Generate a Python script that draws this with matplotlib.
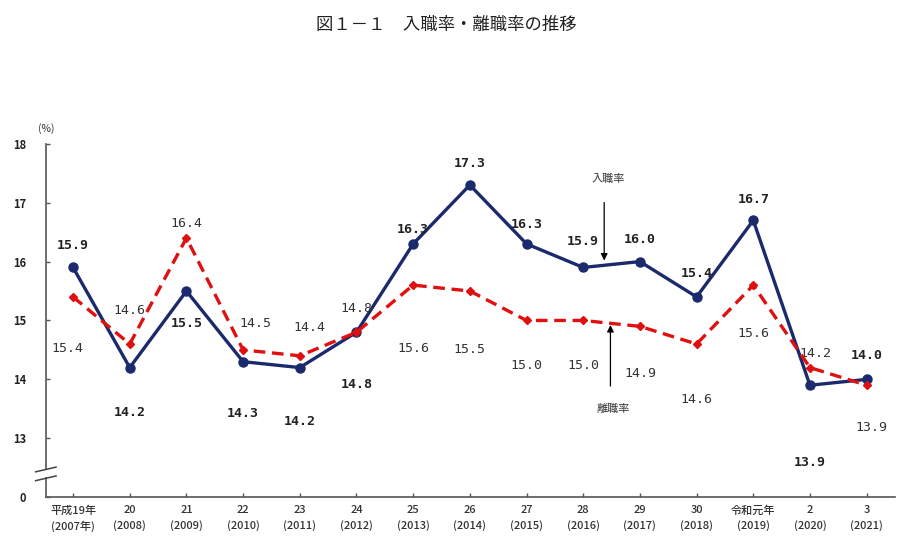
import numpy as np
import matplotlib.pyplot as plt

plt.rcParams['font.family'] = ['Noto Sans CJK JP', 'DejaVu Sans']

# data
years = ['平成19年\n(2007年)', '20\n(2008)', '21\n(2009)', '22\n(2010)', '23\n(2011)',
         '24\n(2012)', '25\n(2013)', '26\n(2014)', '27\n(2015)', '28\n(2016)',
         '29\n(2017)', '30\n(2018)', '令和元年\n(2019)', '2\n(2020)', '3\n(2021)']
hire_rate = [15.9, 14.2, 15.5, 14.3, 14.2, 14.8, 16.3, 17.3, 16.3, 15.9, 16.0, 15.4, 16.7, 13.9, 14.0]
sep_rate = [15.4, 14.6, 16.4, 14.5, 14.4, 14.8, 15.6, 15.5, 15.0, 15.0, 14.9, 14.6, 15.6, 14.2, 13.9]

navy = '#1a2a6c'
red = '#e01010'

fig = plt.figure(figsize=(9.17, 5.53), dpi=100)
ax = fig.add_axes([0.050, 0.101, 0.926, 0.639])
x = np.arange(len(years))

ax.plot(x, hire_rate, color=navy, lw=2.4, marker='o', ms=6.5, zorder=3)
ax.plot(x, sep_rate, color=red, lw=2.4, ls=(0, (3.5, 2)), marker='D', ms=4.5, zorder=4)

# label offsets in pixels (dx, dy)
hire_off = [(0, 22), (0, -45), (0, -32), (0, -52), (0, -54), (0, -52), (0, 14), (0, 22),
            (0, 19), (0, 26), (0, 22), (0, 23), (0, 21), (0, -77), (0, 24)]
sep_off = [(-6, -52), (0, 34), (0, 15), (12, 26), (10, 28), (0, 24), (0, -63), (0, -58),
           (0, -45), (0, -45), (0, -47), (0, -55), (0, -48), (5, 14), (5, -42)]
for i in range(len(x)):
    ax.annotate(f'{hire_rate[i]:.1f}', (x[i], hire_rate[i]), xytext=hire_off[i],
                textcoords='offset pixels', ha='center', va='center',
                fontsize=9.5, fontweight='bold', family='DejaVu Sans Mono', color='#222222')
    ax.annotate(f'{sep_rate[i]:.1f}', (x[i], sep_rate[i]), xytext=sep_off[i],
                textcoords='offset pixels', ha='center', va='center',
                fontsize=9.5, family='DejaVu Sans Mono', color='#333333')

# series name callouts
ax.annotate('', xy=(9.37, 15.97), xytext=(9.37, 17.05),
            arrowprops=dict(arrowstyle='-|>', color='black', lw=0.9, mutation_scale=10))
ax.text(9.44, 17.4, '入職率', ha='center', va='center', fontsize=8, color='#333333')
ax.annotate('', xy=(9.48, 14.97), xytext=(9.48, 13.84),
            arrowprops=dict(arrowstyle='-|>', color='black', lw=0.9, mutation_scale=10))
ax.text(9.52, 13.5, '離職率', ha='center', va='center', fontsize=8, color='#333333')

ax.set_xlim(-0.48, 14.5)
ax.set_ylim(12, 18)
ax.set_xticks(x)
ax.set_xticklabels(years, fontsize=8, color='#333333', linespacing=1.5, fontweight='medium')
ax.set_yticks([12, 13, 14, 15, 16, 17, 18])
ax.set_yticklabels(['0', '13', '14', '15', '16', '17', '18'], fontsize=8, color='#222222',
                   fontweight='bold')
ax.tick_params(axis='both', direction='in', length=3, width=1, color='#555555')
ax.tick_params(axis='x', pad=6)
ax.tick_params(axis='y', pad=14)

for s in ['top', 'right', 'left']:
    ax.spines[s].set_visible(False)
ax.spines['bottom'].set_color('#555555')
ax.spines['bottom'].set_linewidth(1.2)

# left axis drawn with a break between 0 and 13
ax.plot([-0.48, -0.48], [12, 12.33], color='#555555', lw=1.2, clip_on=False)
ax.plot([-0.48, -0.48], [12.48, 18], color='#555555', lw=1.2, clip_on=False)
for yb in [12.33, 12.48]:
    ax.plot([-0.66, -0.3], [yb - 0.05, yb + 0.03], color='#444444', lw=1.1, clip_on=False)

fig.text(0.05, 0.767, '(%)', fontsize=7.5, color='#333333', ha='center', va='center')
fig.text(0.487, 0.955, '図１－１　入職率・離職率の推移', fontsize=12.5, ha='center', va='center',
         color='#222222')

fig.savefig('out.png', dpi=100)
